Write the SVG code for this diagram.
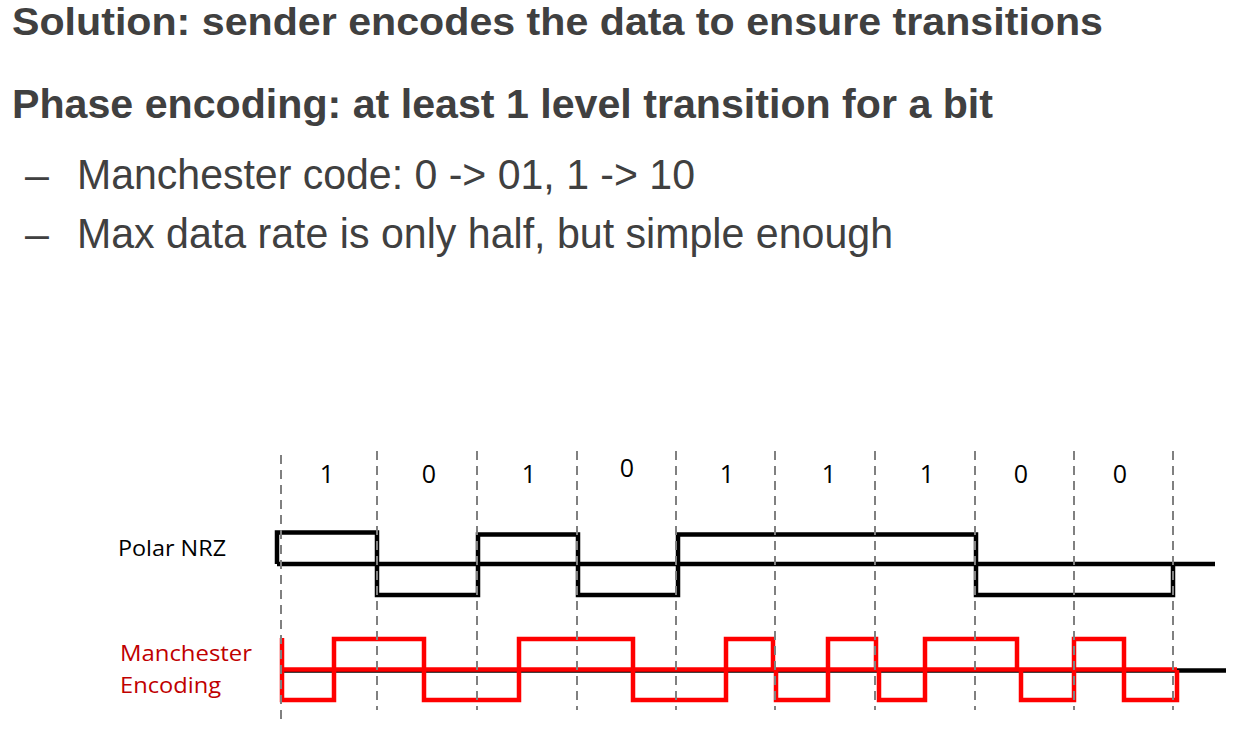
<svg xmlns="http://www.w3.org/2000/svg" width="1240" height="733" viewBox="0 0 1240 733">
  <style>
    .h { font-family: "Liberation Sans", Arial, sans-serif; font-weight: bold; font-size: 41px; fill: #404040; }
    .h1 { font-size: 38.5px; }
    .b { font-family: "Liberation Sans", Arial, sans-serif; font-size: 43px; fill: #404040; }
    .lbl { font-family: "Open Sans", "Noto Sans", sans-serif; font-size: 22px; fill: #000000; }
    .red { fill: #C00000; }
    .bit { font-family: "Open Sans", "Noto Sans", sans-serif; font-size: 25px; fill: #000000; text-anchor: middle; }
    .nrz { fill: none; stroke: #000000; stroke-width: 4.5; stroke-linejoin: miter; }
    .man { fill: none; stroke: #FF0000; stroke-width: 4.5; stroke-linejoin: miter; }
    .grid { stroke: #808080; stroke-width: 2; stroke-dasharray: 9 6; fill: none; }
  </style>
  <rect width="1240" height="733" fill="#FFFFFF"/>

  <g id="headings">
    <text class="h h1" x="12" y="34.5" textLength="1091" lengthAdjust="spacingAndGlyphs">Solution: sender encodes the data to ensure transitions</text>
    <text class="h" x="12" y="118" textLength="981" lengthAdjust="spacingAndGlyphs">Phase encoding: at least 1 level transition for a bit</text>
    <text class="b" x="25" y="189">–</text>
    <text class="b" x="77" y="189" textLength="618" lengthAdjust="spacingAndGlyphs">Manchester code: 0 -&gt; 01, 1 -&gt; 10</text>
    <text class="b" x="25" y="248">–</text>
    <text class="b" x="77" y="248" textLength="816" lengthAdjust="spacingAndGlyphs">Max data rate is only half, but simple enough</text>
  </g>

  <g id="bit-labels">
    <text class="bit" x="327" y="483">1</text>
    <text class="bit" x="429" y="483">0</text>
    <text class="bit" x="529" y="483">1</text>
    <text class="bit" x="627" y="477">0</text>
    <text class="bit" x="727" y="483">1</text>
    <text class="bit" x="829" y="483">1</text>
    <text class="bit" x="927" y="483">1</text>
    <text class="bit" x="1021" y="483">0</text>
    <text class="bit" x="1120" y="483">0</text>
  </g>

  <g id="polar-nrz">
    <text class="lbl" x="118" y="556" textLength="108" lengthAdjust="spacingAndGlyphs">Polar NRZ</text>
    <path class="nrz" d="M 277 564 H 1215"/>
    <path class="nrz" d="M 277 564 V 532.5 H 377 V 595 H 478 V 534.5 H 578 V 595 H 678 V 534.5 H 976 V 595 H 1173 V 564"/>
  </g>

  <g id="manchester">
    <text class="lbl red" x="120" y="661" textLength="132" lengthAdjust="spacingAndGlyphs">Manchester</text>
    <text class="lbl red" x="120" y="693" textLength="101" lengthAdjust="spacingAndGlyphs">Encoding</text>
    <path d="M 282 670.5 H 1226" fill="none" stroke="#000000" stroke-width="4.5"/>
    <path class="man" d="M 282 669.5 H 1177"/>
    <path class="man" d="M 282 638 V 700 H 334 V 639 H 424 V 700 H 519 V 639 H 633 V 700 H 726 V 639 H 773 V 670 M 776 670 V 700 H 828 V 639 H 876 V 670 M 879 670 V 700 H 925 V 639 H 1017 V 670 M 1021 670 V 700 H 1074 V 639 H 1124 V 700 H 1177 V 670"/>
  </g>

  <g id="connectors">
    <line class="grid" x1="281" y1="455" x2="281" y2="720"/>
    <line class="grid" x1="377" y1="451" x2="377" y2="710"/>
    <line class="grid" x1="477" y1="451" x2="477" y2="710"/>
    <line class="grid" x1="577" y1="451" x2="577" y2="710"/>
    <line class="grid" x1="676" y1="451" x2="676" y2="710"/>
    <line class="grid" x1="775" y1="451" x2="775" y2="710"/>
    <line class="grid" x1="875" y1="451" x2="875" y2="710"/>
    <line class="grid" x1="975" y1="451" x2="975" y2="710"/>
    <line class="grid" x1="1074" y1="451" x2="1074" y2="710"/>
    <line class="grid" x1="1173" y1="451" x2="1173" y2="710"/>
  </g>
</svg>
